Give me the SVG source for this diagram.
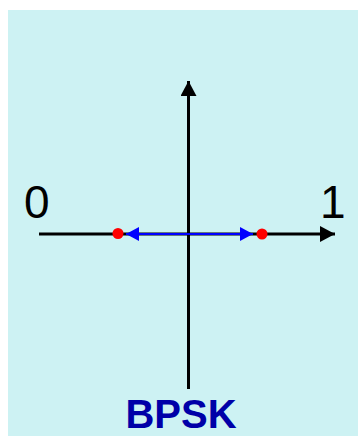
<svg xmlns="http://www.w3.org/2000/svg" width="358" height="436" viewBox="0 0 358 436">
  <style>
    .axis { stroke: #000; stroke-width: 3; fill: none; }
    .sig { stroke: #0000FF; stroke-width: 2; fill: none; }
    .lbl { font-family: "Liberation Sans", Arial, sans-serif; font-size: 46px; fill: #000; }
    .title { font-family: "Liberation Sans", Arial, sans-serif; font-size: 40px; font-weight: bold; fill: #0000A8; }
  </style>
  <defs>
    <marker id="ah" markerUnits="userSpaceOnUse" markerWidth="16" markerHeight="16" refX="15" refY="8" orient="auto">
      <path d="M0,0 L15,8 L0,16 Z" fill="#000"/>
    </marker>
    <marker id="bh" markerUnits="userSpaceOnUse" markerWidth="14" markerHeight="14" refX="13" refY="7" orient="auto">
      <path d="M0,0 L13,7 L0,14 Z" fill="#0000FF"/>
    </marker>
  </defs>
  <rect x="8" y="10" width="350" height="426" fill="#CDF2F3"/>
  <g id="connectors">
    <line class="axis" x1="188.5" y1="389" x2="188.5" y2="81" marker-end="url(#ah)"/>
    <line class="axis" x1="39" y1="234" x2="335" y2="234" marker-end="url(#ah)"/>
    <line class="sig" x1="188" y1="234" x2="253" y2="234" marker-end="url(#bh)"/>
    <line class="sig" x1="188" y1="234" x2="126" y2="234" marker-end="url(#bh)"/>
  </g>
  <g id="point0">
    <circle cx="118" cy="233.5" r="5.5" fill="#FF0000"/>
  </g>
  <g id="point1">
    <circle cx="262" cy="234" r="5.5" fill="#FF0000"/>
  </g>
  <g id="label0"><text class="lbl" x="24" y="218">0</text></g>
  <g id="label1"><text class="lbl" x="320" y="218">1</text></g>
  <g id="title"><text class="title" x="181" y="428" text-anchor="middle">BPSK</text></g>
</svg>
